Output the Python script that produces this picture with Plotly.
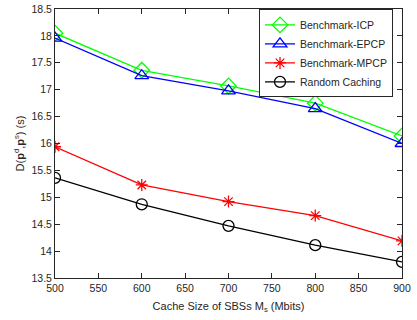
import plotly.graph_objects as go

cache = [500, 600, 700, 800, 900]
icp = [18.05, 17.36, 17.07, 16.75, 16.14]
epcp = [17.96, 17.26, 16.98, 16.65, 16.00]
mpcp = [15.94, 15.23, 14.92, 14.66, 14.19]
rnd = [15.36, 14.87, 14.47, 14.11, 13.80]

names = ["Benchmark-ICP", "Benchmark-EPCP", "Benchmark-MPCP", "Random Caching"]
colors = ["#00ff00", "#0000ff", "#ff0000", "#000000"]
symbols = ["diamond-open", "triangle-up-open", "asterisk-open", "circle-open"]
sizes = [12, 12, 10, 11]

fig = go.Figure()
for ys, n, c, s, sz in zip([icp, epcp, mpcp, rnd], names, colors, symbols, sizes):
    fig.add_trace(go.Scatter(x=cache, y=ys, name=n, mode="lines+markers",
                             line=dict(color=c, width=1.3),
                             marker=dict(symbol=s, size=sz, color=c, line=dict(color=c, width=1.3))))

axis_common = dict(showline=True, linecolor="#262626", linewidth=1, mirror="ticks",
                   ticks="inside", ticklen=5, tickcolor="#262626", showgrid=False, zeroline=False,
                   automargin=False,
                   tickfont=dict(family="Liberation Sans, Arial", size=10.5, color="#262626"))
fig.update_xaxes(range=[500, 900], dtick=50, tick0=500,
                 title=dict(text="Cache Size of SBSs M<sub>s</sub> (Mbits)", standoff=9,
                            font=dict(family="Liberation Sans, Arial", size=11, color="#262626")),
                 **axis_common)
fig.update_yaxes(range=[13.5, 18.5], dtick=0.5, tick0=13.5,
                 title=dict(text="D(<b>p</b><sup>d</sup>,<b>p</b><sup>s</sup>) (s)", standoff=4,
                            font=dict(family="Liberation Sans, Arial", size=11, color="#262626")),
                 **axis_common)
fig.update_layout(width=417, height=320, margin=dict(l=55, r=15, t=9, b=42, autoexpand=False),
                  plot_bgcolor="white", paper_bgcolor="white",
                  legend=dict(x=0.781, y=0.835, xanchor="center", yanchor="middle",
                              bgcolor="white", bordercolor="#262626", borderwidth=1,
                              font=dict(family="Liberation Sans, Arial", size=10.5, color="#262626"),
                              itemwidth=30, tracegroupgap=0))
fig.write_html("out.html", config={"displayModeBar": False},
               post_script="document.body.style.margin='0px';")
